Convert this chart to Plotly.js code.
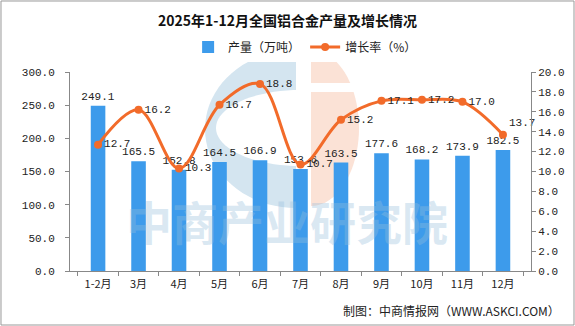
<!DOCTYPE html>
<html><head><meta charset="utf-8">
<script src="https://cdn.plot.ly/plotly-3.0.1.min.js"></script>
<style>html,body{margin:0;padding:0;background:#fff}#c{width:575px;height:326px}</style>
</head><body><div id="c"></div>
<script>
const months = ["1-2月","3月","4月","5月","6月","7月","8月","9月","10月","11月","12月"];
const output = [249.1,165.5,152.8,164.5,166.9,153.6,163.5,177.6,168.2,173.9,182.5];
const growth = [12.7,16.2,10.3,16.7,18.8,10.7,15.2,17.1,17.2,17.0,13.7];
const yLeftTicks = [0,50,100,150,200,250,300];
const yRightTicks = [0,2,4,6,8,10,12,14,16,18,20];

const F = "Liberation Mono, 'Noto Sans CJK SC', monospace";
const growthPos = growth.map((v,i)=> i===growth.length-1 ? "top right" : "middle right");

// decorative logo helpers (pixel -> paper)
const L=70, R=531, T=72, B=271;
const px = x => ((x-L)/(R-L)).toFixed(4);
const py = y => ((B-y)/(B-T)).toFixed(4);
function ellArc(cx,cy,rx,ry,a0,a1,n){
  const pts=[];
  for(let i=0;i<=n;i++){const a=(a0+(a1-a0)*i/n)*Math.PI/180; pts.push([cx+rx*Math.cos(a), cy+ry*Math.sin(a)]);}
  return pts;
}
function toPath(pts){return pts.map((p,i)=>(i?"L":"M")+px(p[0])+","+py(p[1])).join(" ")+" Z";}
const blueHalf = toPath(ellArc(296,129,91,79,90,270,40));
const holeHalf = toPath(ellArc(300,128,84,38,90,270,40));
const orangeHalf = toPath(ellArc(311,128,48,78,-90,90,40));

const traces = [
  {type:"bar", x:months, y:output, name:"产量（万吨）", marker:{color:"#3D9BEB"},
   text:output.map(v=>v.toFixed(1)), textposition:"outside", constraintext:"none",
   textfont:{family:F,size:11,color:"#222"}, cliponaxis:false},
  {type:"scatter", mode:"lines+markers+text", x:months, y:growth, yaxis:"y2",
   name:"增长率（%）", line:{color:"#F26B2A",width:3,shape:"spline",smoothing:1},
   marker:{color:"#F26B2A",size:8}, text:growth.map(v=>v.toFixed(1)),
   textposition:growthPos, textfont:{family:F,size:11,color:"#222"}, cliponaxis:false}
];

const layout = {
  width:575, height:326,
  margin:{l:70,r:44,t:72,b:55},
  paper_bgcolor:"#fff", plot_bgcolor:"rgba(0,0,0,0)",
  font:{family:F,size:11,color:"#222"},
  title:{text:"<b>2025年1-12月全国铝合金产量及增长情况</b>", x:0.5, xanchor:"center", y:1-21/326, yanchor:"middle",
         font:{family:"'Noto Sans CJK SC'",size:14,color:"#111"}},
  showlegend:true,
  legend:{orientation:"h", x:0.51, xanchor:"center", y:py(47), yanchor:"middle",
          font:{family:"'Noto Sans CJK SC'",size:12,color:"#222"}, itemwidth:30, traceorder:"normal"},
  bargap:0.64,
  xaxis:{type:"category", showline:true, linecolor:"#888", linewidth:1, ticks:"outside", ticklen:4,
         tickcolor:"#888", tickson:"boundaries", showgrid:false, zeroline:false, ticklabelstandoff:3,
         tickfont:{family:"'Noto Sans CJK SC'",size:11,color:"#222"}},
  yaxis:{range:[0,300], tickvals:yLeftTicks, ticktext:yLeftTicks.map(v=>v.toFixed(1)),
         showline:true, linecolor:"#888", ticks:"outside", ticklen:4, tickcolor:"#888", ticklabelstandoff:8,
         showgrid:false, zeroline:false, tickfont:{family:F,size:11,color:"#222"}},
  yaxis2:{range:[0,20], overlaying:"y", side:"right", tickvals:yRightTicks,
          ticktext:yRightTicks.map(v=>v.toFixed(1)), showline:true, linecolor:"#888",
          ticks:"outside", ticklen:4, tickcolor:"#888", showgrid:false, zeroline:false,
          tickfont:{family:F,size:11,color:"#222"}},
  shapes:[
    {type:"rect", xref:"paper", yref:"paper", x0:-0.1497, x1:1.0933, y0:-0.2714, y1:1.3568,
     line:{color:"#999",width:1}, fillcolor:"rgba(0,0,0,0)"},
    {type:"path", xref:"paper", yref:"paper", path:blueHalf, line:{width:0}, fillcolor:"#D4E5F0", layer:"below"},
    {type:"path", xref:"paper", yref:"paper", path:holeHalf, line:{width:0}, fillcolor:"#FFFFFF", layer:"below"},
    {type:"path", xref:"paper", yref:"paper", path:orangeHalf, line:{width:0}, fillcolor:"#FBE2D6", layer:"below"},
    {type:"rect", xref:"paper", yref:"paper", x0:px(309), x1:px(362), y0:py(92), y1:py(83),
     line:{width:0}, fillcolor:"#FFFFFF", layer:"below"}
  ],
  annotations:[
    {text:"<b>中商产业研究院</b>", xref:"paper", yref:"paper", x:px(287), y:py(255), showarrow:false,
     font:{family:"'Noto Sans CJK SC'",size:46,color:"rgba(150,190,220,0.35)"}},
    {text:"制图：中商情报网（WWW.ASKCI.COM）", xref:"paper", yref:"paper", x:px(562), xanchor:"right",
     y:py(311), yanchor:"middle", showarrow:false, font:{family:"'Noto Sans CJK SC'",size:12,color:"#222"}}
  ]
};
Plotly.newPlot("c", traces, layout, {displayModeBar:false, staticPlot:true});
</script></body></html>
